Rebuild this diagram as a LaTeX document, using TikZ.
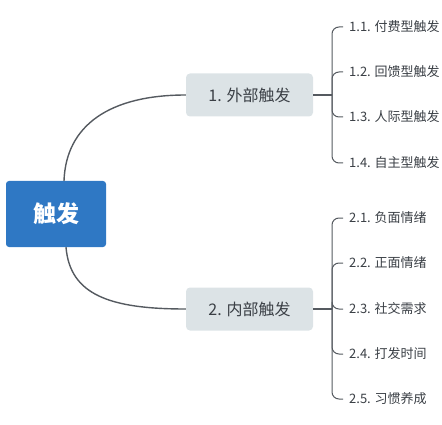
\documentclass[tikz,border=0pt]{standalone}
\usepackage{fontspec}
\newfontfamily\cjk{Noto Sans CJK SC}
\definecolor{rootblue}{HTML}{2F78C4}
\definecolor{topicgrey}{HTML}{DCE3E6}
\definecolor{linegrey}{HTML}{555A60}
\definecolor{textgrey}{HTML}{3A3F45}
\tikzset{
  root/.style={rectangle,rounded corners=3pt,fill=rootblue,text=white,minimum width=100pt,minimum height=66pt,font=\cjk\bfseries\fontsize{23}{26}\selectfont},
  topic/.style={rectangle,rounded corners=4pt,fill=topicgrey,text=textgrey,minimum width=127pt,minimum height=43pt,font=\cjk\fontsize{16}{19}\selectfont},
  leaf/.style={anchor=west,inner xsep=6pt,text=textgrey,font=\cjk\fontsize{13}{15}\selectfont},
  conn/.style={draw=linegrey,line width=1.4pt},
  brace/.style={draw=linegrey,line width=1pt,rounded corners=7pt}
}
\begin{document}
\begin{tikzpicture}[x=1pt,y=-1pt]
  \useasboundingbox (0,0) rectangle (442,425);
  \node[root] (r) at (56,214) {触发};
  \node[topic] (t1) at (249.5,95) {1. 外部触发};
  \node[topic] (t2) at (249.5,309) {2. 内部触发};
  % Main branches
  \draw[conn] (r.north) ++(8,0) coordinate (r1) .. controls (66,125) and (110,95) .. (t1.west);
  \draw[conn] (r.south) ++(10,0) coordinate (r2) .. controls (70,295) and (110,309) .. (t2.west);
  % Junctions
  \coordinate (j1) at (332,95);
  \coordinate (j2) at (332,309);
  \draw[conn] (t1.east) -- (j1);
  \draw[conn] (t2.east) -- (j2);
  % Leaves of branch 1
  \node[leaf] (l11) at (343,27) {1.1. 付费型触发};
  \node[leaf] (l12) at (343,72) {1.2. 回馈型触发};
  \node[leaf] (l13) at (343,117) {1.3. 人际型触发};
  \node[leaf] (l14) at (343,163) {1.4. 自主型触发};
  \foreach \n in {l11,l12,l13,l14}
    \draw[brace] (j1) |- (\n.west);
  % Leaves of branch 2
  \node[leaf] (l21) at (343,218) {2.1. 负面情绪};
  \node[leaf] (l22) at (343,263) {2.2. 正面情绪};
  \node[leaf] (l23) at (343,309) {2.3. 社交需求};
  \node[leaf] (l24) at (343,354) {2.4. 打发时间};
  \node[leaf] (l25) at (343,399) {2.5. 习惯养成};
  \foreach \n in {l21,l22,l23,l24,l25}
    \draw[brace] (j2) |- (\n.west);
\end{tikzpicture}
\end{document}
